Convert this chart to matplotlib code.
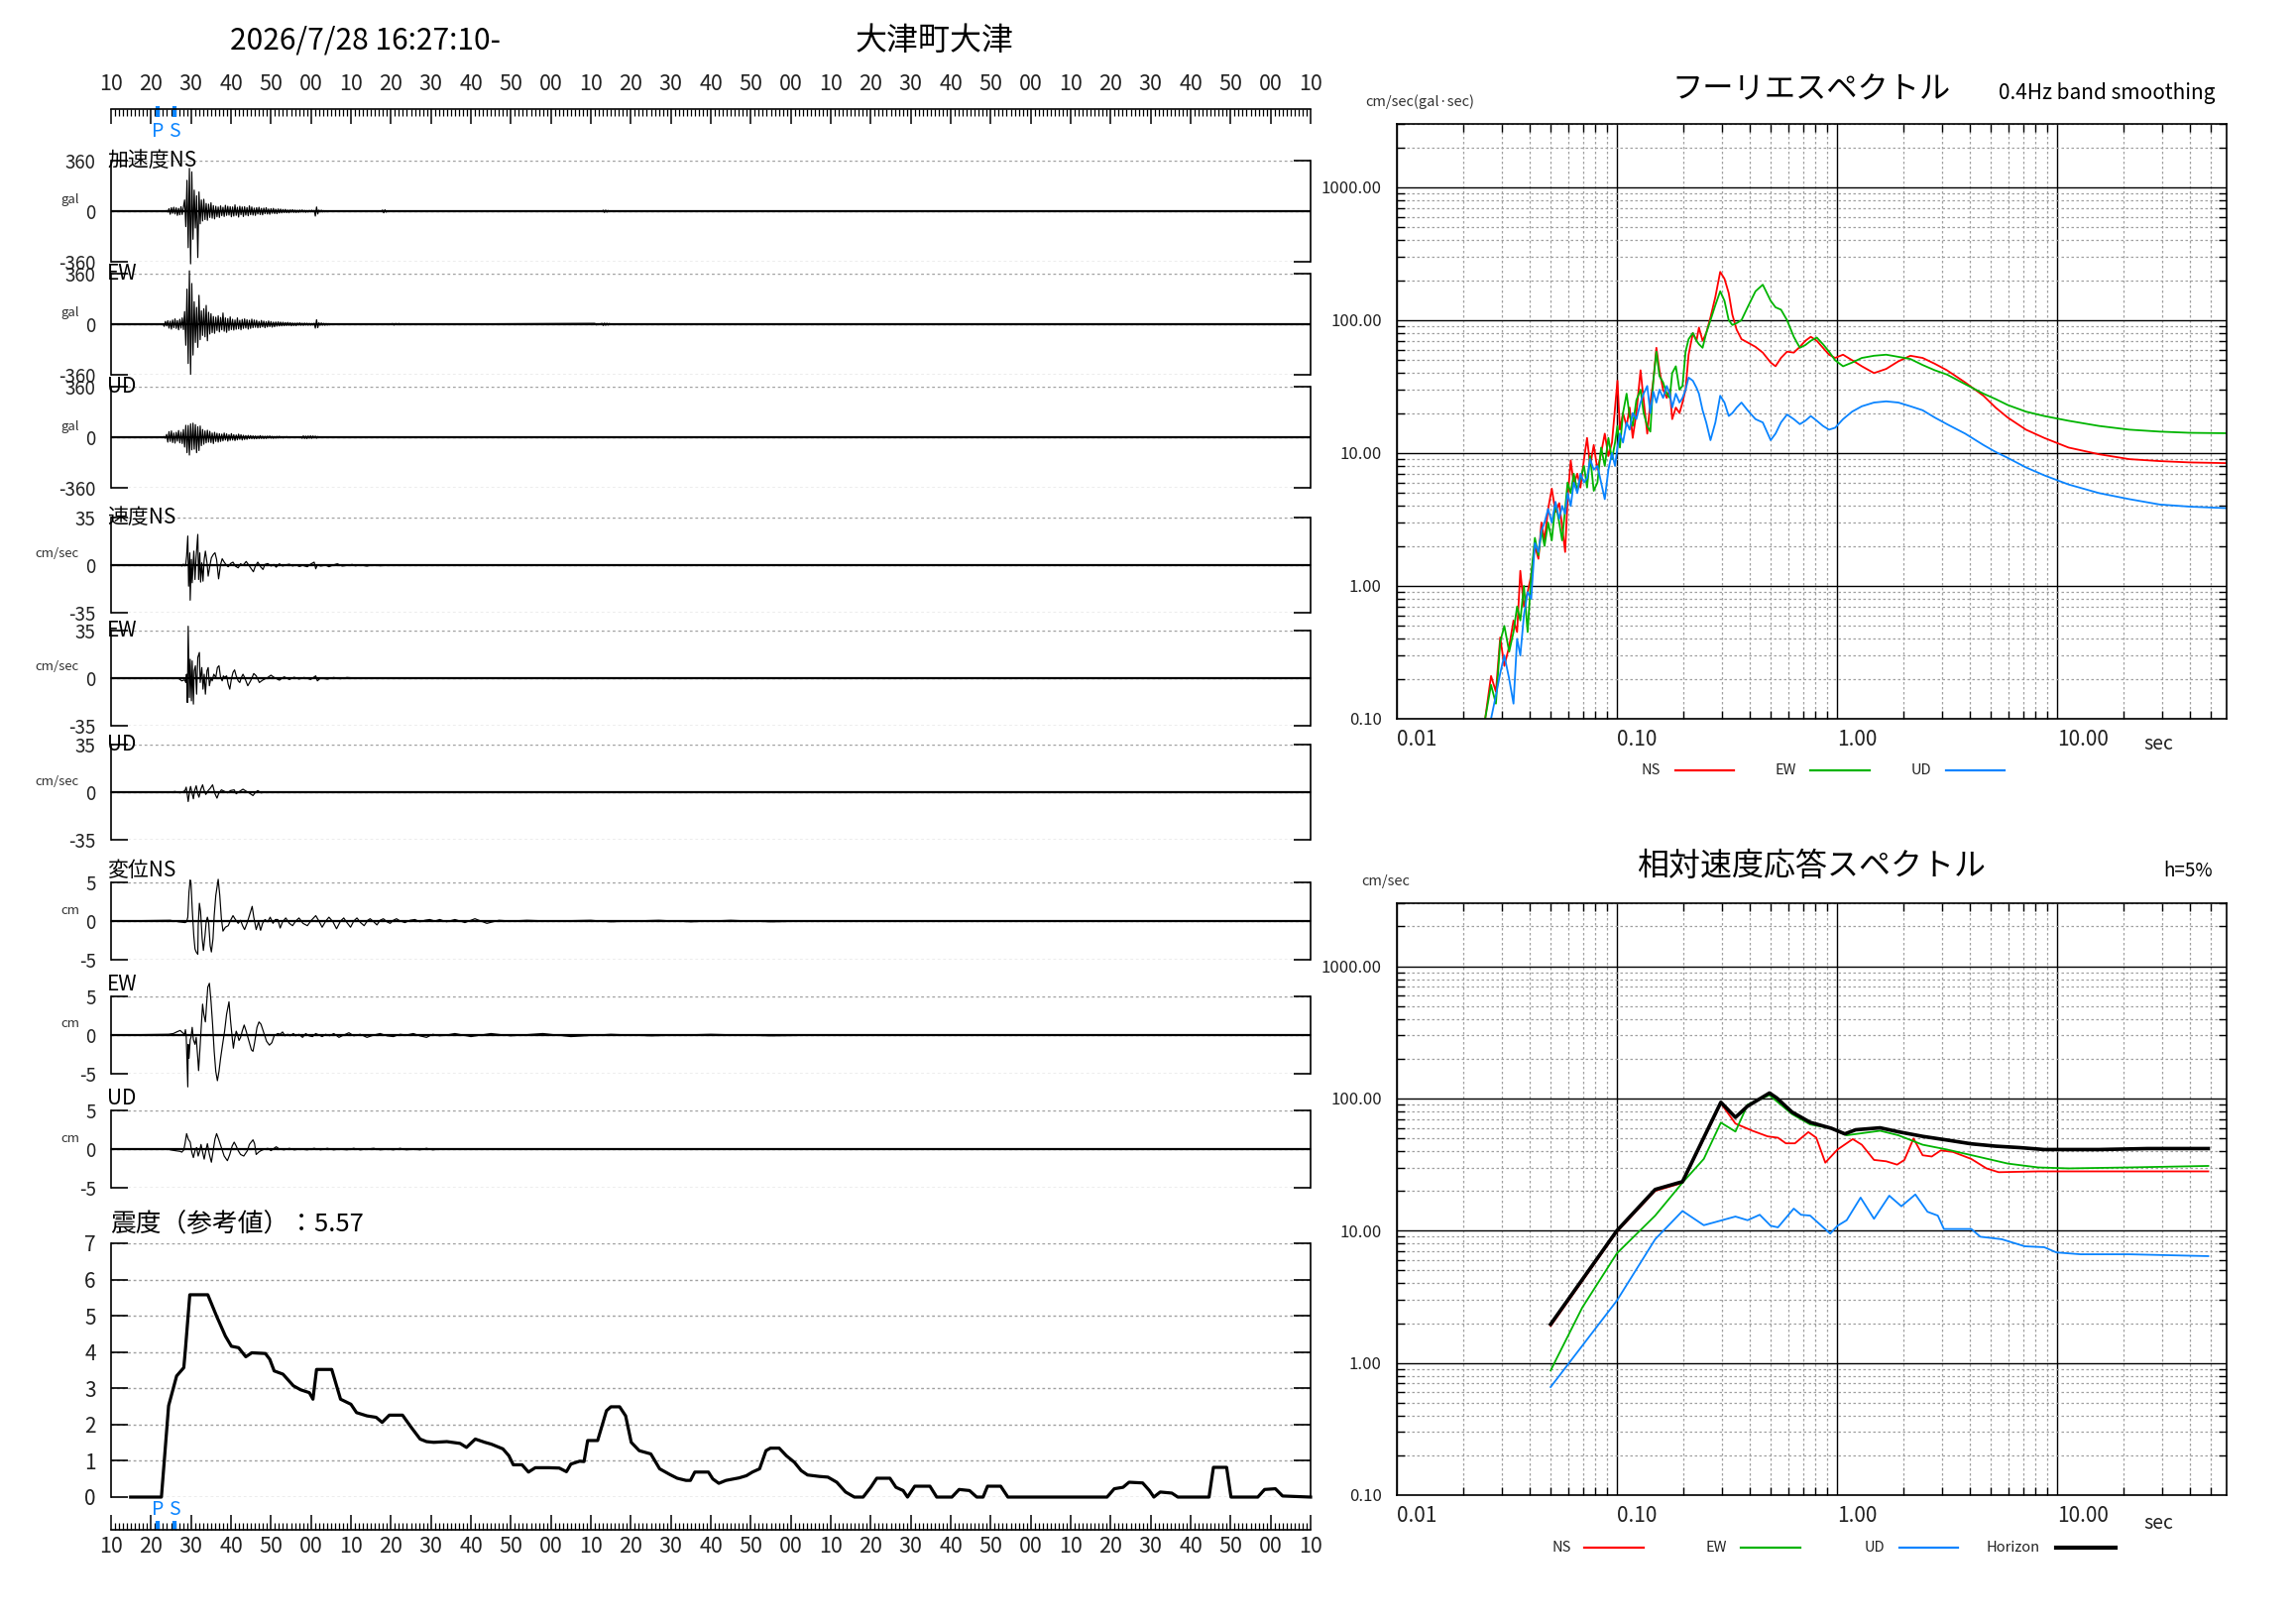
import numpy as np
import matplotlib
matplotlib.use("Agg")
import matplotlib.pyplot as plt
import matplotlib.transforms as mtransforms
from matplotlib.lines import Line2D
from matplotlib.ticker import MultipleLocator, FuncFormatter, LogLocator, NullFormatter

plt.rcParams['font.family'] = ['Noto Sans CJK JP', 'DejaVu Sans']

W, H, DPI = 2316, 1637, 100
LEFT, RIGHT = 112, 1322        # waveform panels (px)
SP_L, SP_R = 1409, 2246        # spectrum panels (px)
RED, GREEN, BLUE = '#ff0000', '#00b400', '#0a84ff'
GRID = '#a0a0a0'
DOT = (0, (2, 2))

# ---------------- data ----------------
# time in seconds after 16:27:10
p_time = 11.7
s_time = 15.9

# acceleration (gal), sampled every acc_dt seconds from acc_t0
acc_t0 = 13.0
acc_dt = 0.3
acc_ns = [0, 3, -4, 5, -6,
          18, -22, 25, -15, 28, -20, 24, -30, 20, -26, 32, -24, 30,
          80, -110, 220, -260, 305, -375, 280, -200, 150, -120, 110, -330,
          137, -90, 80, -70, 85, -60, 55, -65, 50, -45, 60, -50, 40, -55,
          35, -40, 30, -45, 38, -32, 28, -38, 42, -30, 35, -28, 32, -40,
          30, -35, 45, -30, 28, -42, 35, -25, 30, -38, 32, -28, 26, -33, 38, -25, 30,
          -28, 22, -30, 25, -20, 28, -24, 20, -26, 22, -18, 25, -20, 16, -22, 18, -15, 20,
          -17, 14, -18, 16, -13, 15, -12,
          12, -10, 13, -11, 9, -12, 10, -8, 11, -9, 8, -10, 7, -9, 8, -6, 9, -7, 6, -8,
          5, -7, 6, -5, 7, -5, 6,
          -35, 30, -20, 8, -6, 7, -5, 4, -5, 3, -4, 3, -2, 0]
acc_ew = [2, -15, 20, -12, 25,
          -28, 22, -35, 30, -25, 38, -30, 26, -40, 35, -28, 45, -38,
          90, -150, 250, -280, 380, -357, 290, -220, 160, -130, 120, -165,
          206, -110, 95, -80, 110, -90, 134, -118, 85, -70, 75, -60, 55, -65,
          50, -45, 60, -55, 48, -40, 80, -50, 45, -58, 40, -45, 52, -38,
          35, -42, 30, -36, 45, -33, 28, -40, 34, -30, 38, -27, 32, -35, 28, -30, 36,
          -25, 30, -22, 28, -26, 20, -24, 27, -19, 22, -25, 18, -20, 23, -17, 19, -21, 15,
          -18, 16, -14, 17, -13, 15, -12,
          14, -11, 12, -10, 13, -9, 11, -12, 9, -10, 8, -11, 9, -7, 10, -8, 7, -9, 8, -6,
          7, -8, 6, -7, 5, -6, 7,
          -28, 32, -25, 10, -8, 9, -7, 6, -8, 5, -6, 4, -5, 0]
acc_ud = [0, 5, -8, 20, -35,
          40, -30, 45, -38, 30, -42, 35, -28, 48, -40, 36, -45, 55,
          -70, 85, -110, 84, -127, 95, -90, 100, -85, 90, -110, 75,
          -95, 80, -60, 55, -50, 45, -40, 50, -35, 42, -38, 30, -45, 35,
          -30, 28, -35, 25, -30, 22, -26, 30, -20, 24, -28, 18, -22, 26,
          -20, 18, -24, 16, -19, 22, -15, 18, -20, 14, -16, 12, -15, 13, -10, 12, -11,
          10, -12, 9, -11, 8, -10, 12, -9, 8, -10, 7, -9, 8, -6, 9, -7, 6, -8,
          5, -7, 6, -5, 7, -5, 4,
          -5, 4, -3, 5, -4, 3, -4, 2, -3, 3, -2, 3, -2, 2, -3, 2, -8, 10, -9, 8,
          -10, 9, -7, 10, -8, 9, -6,
          8, -7, 5, -4, 3, -2, 2, -1, 1, -1, 1, 0, 0, 0]
# small later bursts in the acceleration records (time, gal)
acc_ns_blip_t = [67.6, 67.9, 68.2, 68.5, 68.8, 69.1, 122.8, 123.1, 123.4, 123.7, 124.0, 124.3, 124.6]
acc_ns_blip = [0, 8, -12, 10, -7, 0, 0, 7, -9, 8, -7, 5, 0]
acc_ew_blip_t = [70.0, 70.4, 70.8, 71.2, 71.6, 72.0, 72.4, 72.8, 121.0, 121.3, 122.8, 123.1, 123.4,
                 123.7, 124.0, 124.3, 124.6, 125.0]
acc_ew_blip = [0, 5, -6, 5, -4, 5, -4, 0, 6, -5, 6, -9, 8, -8, 7, -6, 5, 0]

# velocity (cm/sec)
vel_ns_t = [0, 15.6, 17.3, 17.7, 18.1, 18.5, 18.7, 18.9, 19.2, 19.4,
            19.7, 19.8, 20.1, 20.3, 20.7, 21.0, 21.3, 21.7, 21.9, 22.2,
            22.4, 22.7, 23.0, 23.3, 23.6, 24.0, 24.3, 24.7, 25.1, 25.6,
            26.0, 26.4, 26.9, 27.4, 27.8, 28.3, 28.9, 29.3, 29.9, 30.5,
            31.1, 31.8, 32.4, 33.0, 33.8, 34.6, 35.6, 36.1, 36.7, 37.4,
            38.0, 38.5, 39.2, 40.0, 40.7, 41.3, 42.1, 42.9, 43.7, 44.6,
            45.4, 46.2, 47.1, 47.9, 49.1, 49.9, 50.8, 51.2, 51.6, 52.4,
            53.7, 54.5, 55.7, 56.6, 57.8, 59.0, 60.3, 61.1, 62.4, 64.0,
            65.7, 67.3, 69.0, 70.6, 300]
vel_ns = [0, 0, 0.2, -0.7, 0.7, -0.5, 1.0, 6.6, 21.4, -15.5,
          9.0, -25.8, 4.2, -13.0, 10.3, -10.6, 6.6, 22.6, -10.6, 9.0,
          -12.5, 1.7, -11.8, 4.2, 10.3, 1.7, -8.1, -0.7, 5.4, 7.9,
          9.1, 4.2, -10.1, 0.5, 4.7, 2.2, -0.2, -1.2, 1.2, 2.2,
          -0.7, -2.0, 1.0, -0.2, 2.7, -0.7, -4.9, -0.7, 2.2, -1.2,
          -3.2, 0.5, 1.2, -0.7, 0.5, -1.5, 1.0, -0.7, 0.2, 0.7,
          -0.7, 0.2, -1.0, -0.2, -1.2, 0.7, 2.2, -2.7, 0.2, -0.7,
          0, -1.2, 0.2, 1.0, -0.7, -0.2, 0.5, -0.5, 0, -0.7,
          0.2, -0.5, 0, -0.2, 0]
vel_ew_t = [0, 16.9, 17.7, 18.4, 18.7, 18.9, 19.1, 19.3, 19.6, 19.8,
            20.1, 20.3, 20.6, 20.8, 21.1, 21.4, 21.7, 22.1, 22.3, 22.7,
            23.0, 23.3, 23.6, 24.0, 24.3, 24.6, 25.0, 25.3, 25.7, 26.2,
            26.6, 27.0, 27.4, 27.8, 28.1, 28.4, 28.9, 29.3, 29.7, 30.1,
            30.5, 30.9, 31.3, 31.8, 32.2, 32.6, 33.0, 33.4, 34.2, 34.9,
            35.7, 36.3, 37.1, 37.9, 39.2, 40.0, 40.8, 42.1, 43.3, 44.6,
            45.8, 47.0, 48.3, 49.9, 51.2, 51.6, 52.4, 54.1, 55.7, 57.4,
            59.0, 62.3, 67.3, 300]
vel_ew = [0, -0.2, -2.0, -1.2, -3.2, 2.9, -17.9, 38.2, -14.2, 13.9,
          -16.7, 12.7, -19.1, 5.4, 9.1, -11.8, 15.2, 18.9, -3.2, 7.8,
          -8.1, 2.9, -11.8, 5.4, 7.8, -5.6, 0.5, -2.0, 2.9, 0.5,
          7.8, 9.1, 0.5, -2.0, 1.7, 0.5, 1.7, -4.4, -8.1, -0.7,
          4.2, 6.1, 1.7, -2.0, -3.2, 0.5, 2.9, 0.5, -5.6, -2.0,
          3.4, 1.7, -3.2, -1.5, 0.5, 2.2, 0.5, -1.5, 1.0, -1.0,
          0.7, -0.7, 0.5, -1.0, 1.7, -2.0, 0, -0.7, 0.5, -0.5,
          0.5, -0.2, 0.2, 0]
vel_ud_t = [0, 14.4, 16.0, 17.3, 18.1, 18.5, 18.8, 19.1, 19.3, 19.7,
            19.9, 20.3, 20.6, 20.9, 21.3, 21.7, 22.0, 22.4, 22.9, 23.3,
            23.7, 24.3, 24.9, 25.4, 26.0, 26.5, 26.9, 27.6, 28.3, 29.1,
            29.9, 30.8, 31.3, 32.2, 33.0, 33.8, 34.6, 35.5, 36.1, 36.7,
            37.5, 39.2, 41.7, 45.0, 49.1, 55.7, 300]
vel_ud = [0, -0.2, 0.5, -0.5, 0.5, 1.2, 3.7, -2.5, -6.9, 1.7,
          4.2, -1.2, -4.9, 1.2, 4.7, -1.2, -3.7, 1.7, 5.4, 1.2,
          -1.7, 1.2, 3.2, 5.4, -1.2, -4.4, -1.2, 1.7, 0.7, -0.5,
          1.2, 1.7, -1.2, 0.7, 2.2, 0.7, -0.7, -2.5, -0.2, 1.2,
          -0.5, 0.2, -0.2, 0.2, -0.2, 0, 0]

# displacement (cm)
disp_ns_t = [0, 14.8, 16.9, 18.5, 18.9, 19.2, 19.5, 19.8, 20.0, 20.3,
             20.7, 21.0, 21.3, 21.7, 21.8, 22.1, 22.4, 22.8, 23.1, 23.5,
             23.8, 24.1, 24.4, 24.8, 25.1, 25.5, 25.8, 26.2, 26.8, 27.2,
             27.6, 28.0, 28.6, 29.3, 29.9, 30.5, 31.1, 31.8, 32.4, 32.9,
             33.4, 34.0, 34.6, 35.3, 35.7, 36.3, 36.9, 37.4, 37.9, 38.5,
             39.2, 39.8, 40.5, 41.1, 41.7, 42.3, 42.9, 43.7, 44.6, 45.4,
             46.2, 47.0, 48.0, 49.1, 50.1, 51.2, 52.0, 52.8, 53.7, 54.5,
             55.5, 56.4, 57.4, 58.2, 59.0, 59.9, 60.7, 61.5, 62.4, 63.3,
             64.2, 64.8, 65.7, 66.5, 67.3, 68.1, 69.0, 69.8, 70.6, 71.4,
             72.3, 73.5, 74.8, 76.0, 77.2, 78.5, 79.7, 81.0, 82.2, 83.9,
             86.0, 88.5, 91.0, 94.0, 97.0, 100.0, 104.0, 110.0, 120.0, 125.0,
             130.0, 137.0, 145.0, 155.0, 165.0, 175.0, 300]
disp_ns = [0, 0.1, -0.1, -0.2, -0.1, 0.5, 3.8, 5.3, 4.9, 1.6,
           -1.9, -3.6, -4.0, -4.3, -0.6, 2.3, 1.2, -2.3, -3.8, -1.9,
           -0.1, 0.5, -0.1, -3.2, -4.0, -2.3, 0.7, 3.3, 5.4, 3.3,
           0.3, -1.3, -0.8, -0.6, 0.1, 0.7, 0.2, -0.3, 0.1, -0.6,
           -1.1, -0.3, 0.7, 1.9, 0.5, -1.1, -0.1, -1.2, -0.3, 0.2,
           -0.1, 0.5, -0.3, 0.2, 0.2, -0.9, -0.1, 0.4, -0.3, -0.6,
           0, 0.4, -0.3, -0.6, 0.1, 0.7, 0, -0.8, 0, 0.5,
           -0.1, -1.0, 0, 0.4, -0.2, -0.8, 0, 0.4, -0.2, -0.6,
           0.1, 0.3, -0.1, -0.5, 0.1, 0.3, -0.1, -0.3, 0.1, 0.3,
           0, -0.2, 0.1, 0.2, -0.1, 0.1, 0.2, 0, 0.2, -0.1,
           0.2, -0.2, 0.3, -0.3, 0.1, 0, 0.1, 0, 0.1, -0.1,
           0, 0.1, -0.1, 0.1, -0.1, 0, 0]
disp_ew_t = [0, 14.4, 15.6, 16.4, 17.3, 17.9, 18.4, 18.6, 18.8, 19.2,
             19.3, 19.5, 19.8, 20.0, 20.3, 20.6, 21.0, 21.3, 21.7, 21.9,
             22.2, 22.6, 22.9, 23.2, 23.6, 23.9, 24.2, 24.6, 25.0, 25.4,
             25.8, 26.2, 26.6, 27.0, 27.4, 27.9, 28.4, 28.9, 29.5, 29.9,
             30.3, 30.6, 30.9, 31.3, 31.6, 32.0, 32.4, 32.8, 33.3, 33.8,
             34.5, 35.1, 35.5, 35.9, 36.5, 37.0, 37.5, 38.2, 38.9, 39.6,
             40.2, 40.8, 41.7, 42.3, 42.9, 43.5, 44.2, 44.8, 45.6, 46.2,
             47.0, 47.9, 48.7, 49.5, 50.4, 51.2, 52.0, 52.8, 53.7, 54.7,
             55.7, 57.0, 58.2, 59.5, 60.7, 62.3, 64.0, 65.7, 67.3, 69.0,
             70.6, 72.3, 73.9, 75.6, 77.2, 78.9, 80.5, 82.2, 83.9, 86.0,
             90.0, 95.0, 100.0, 108.0, 115.0, 125.0, 135.0, 150.0, 165.0, 180.0, 300]
disp_ew = [0, 0.1, 0.2, 0.4, 0.6, 0.3, 0.1, 0.7, -0.1, -6.7,
           -1.2, -3.0, -0.6, -0.3, 1.0, -0.6, -1.2, -0.3, -3.0, -4.6,
           -2.1, 1.4, 4.0, 2.7, 1.7, 4.0, 6.2, 6.7, 4.4, 1.4,
           -2.1, -4.7, -5.9, -4.7, -3.0, -1.2, 0.5, 2.7, 4.3, 1.8,
           -0.3, -1.7, -0.6, 0.5, 0.1, -0.7, -0.3, 0.5, 1.3, 0.5,
           -0.8, -1.9, -2.1, -1.0, 1.0, 1.7, 1.4, 0.3, -0.8, -1.3,
           -1.0, -0.1, 0.2, 0.1, 0.4, -0.1, 0.1, -0.1, 0.2, -0.1,
           0.1, -0.3, 0.2, -0.1, -0.2, 0.2, 0, -0.2, 0.1, -0.1,
           0.2, -0.3, 0, 0.3, -0.1, 0.1, -0.3, 0, 0.2, -0.1,
           -0.2, 0.1, 0, 0.2, -0.1, -0.3, 0.1, -0.1, 0, 0.2,
           -0.2, 0.2, -0.1, 0.2, -0.2, 0.1, -0.1, 0.1, -0.1, 0, 0]
disp_ud_t = [0, 14.4, 14.8, 16.0, 17.3, 17.7, 18.2, 18.5, 18.9, 19.3,
             19.8, 20.2, 20.6, 21.0, 21.4, 21.8, 22.2, 22.5, 22.9, 23.3,
             23.7, 24.1, 24.6, 25.1, 25.6, 26.0, 26.4, 26.9, 27.6, 28.3,
             29.1, 29.7, 30.3, 30.8, 31.3, 31.8, 32.4, 33.2, 34.1, 34.6,
             35.5, 35.9, 36.3, 36.9, 37.5, 38.4, 39.2, 40.0, 41.3, 42.1,
             43.3, 44.6, 45.8, 47.5, 49.1, 50.8, 52.4, 54.1, 55.7, 57.4,
             59.0, 60.7, 62.3, 64.0, 65.7, 67.3, 69.0, 70.6, 72.3, 73.9,
             75.6, 77.2, 78.9, 80.5, 82.2, 83.9, 300]
disp_ud = [0, 0, -0.1, -0.2, -0.3, -0.4, -0.1, 0.7, 2.0, 1.3,
           0.9, -0.4, -1.1, -0.2, 0.2, -0.9, -0.2, 0.6, -0.4, -1.3,
           -0.2, 0.7, -0.7, -1.7, 0, 1.3, 2.0, 1.3, 0.2, -0.9,
           -1.5, -0.7, 0.4, 0.9, 0.4, -0.2, -0.7, -0.9, -0.2, 0.6,
           1.2, 0.7, -0.7, -0.4, -0.2, 0, 0.1, -0.2, 0.3, 0,
           -0.1, 0.1, -0.1, 0, -0.1, 0.1, -0.1, 0.1, -0.1, 0,
           -0.1, 0.1, -0.1, 0, 0.1, -0.1, 0, -0.1, 0.1, -0.1,
           0, -0.1, 0.1, -0.1, 0, 0, 0]

# seismic intensity (reference value)
int_t = [4.9, 12.6, 14.4, 16.4, 18.2, 18.6, 19.7, 24.2, 26.4, 28.6,
         30.1, 31.9, 33.7, 35.2, 38.6, 39.7, 40.8, 43.0, 45.6, 47.4,
         49.6, 50.5, 51.4, 55.2, 57.4, 60.0, 61.4, 64.0, 66.3, 67.8,
         69.6, 72.9, 75.1, 77.3, 78.9, 80.7, 84.0, 87.3, 88.9, 91.1,
         93.5, 95.1, 98.0, 99.5, 100.6, 102.8, 104.4, 106.1, 109.5, 112.1,
         113.9, 115.0, 117.2, 118.3, 119.2, 121.7, 123.9, 125.0, 127.2, 128.7,
         130.1, 132.1, 135.0, 137.2, 139.8, 141.6, 143.8, 144.9, 146.0, 149.4,
         150.5, 152.0, 153.8, 157.1, 158.9, 160.4, 162.2, 163.8, 164.9, 167.1,
         168.9, 170.9, 172.6, 174.2, 177.1, 179.3, 181.5, 183.7, 185.9, 188.1,
         190.0, 191.5, 194.8, 196.3, 198.1, 199.2, 201.0, 204.8, 206.5, 210.3,
         212.1, 214.7, 216.5, 218.1, 219.2, 222.5, 224.3, 249.1, 250.9, 253.1,
         254.6, 258.0, 259.7, 260.8, 262.4, 265.3, 266.8, 274.6, 275.7, 279.0,
         280.1, 286.8, 288.5, 291.2, 293.0, 300.0]
int_v = [0, 0, 2.52, 3.34, 3.57, 4.07, 5.58, 5.58, 4.99, 4.44,
         4.16, 4.12, 3.87, 3.98, 3.96, 3.80, 3.48, 3.39, 3.07, 2.96,
         2.88, 2.70, 3.52, 3.52, 2.70, 2.56, 2.33, 2.24, 2.20, 2.06,
         2.26, 2.26, 1.92, 1.60, 1.53, 1.51, 1.53, 1.48, 1.37, 1.60,
         1.51, 1.46, 1.33, 1.14, 0.89, 0.89, 0.69, 0.81, 0.81, 0.80,
         0.70, 0.91, 0.99, 0.98, 1.56, 1.56, 2.38, 2.49, 2.49, 2.24,
         1.51, 1.28, 1.19, 0.78, 0.62, 0.52, 0.46, 0.46, 0.69, 0.69,
         0.50, 0.38, 0.46, 0.53, 0.59, 0.69, 0.78, 1.28, 1.35, 1.35,
         1.14, 0.96, 0.73, 0.61, 0.57, 0.55, 0.41, 0.14, 0, 0,
         0.27, 0.52, 0.52, 0.27, 0.18, 0, 0.30, 0.30, 0, 0,
         0.21, 0.18, 0, 0, 0.30, 0.30, 0, 0, 0.23, 0.27,
         0.41, 0.39, 0.18, 0, 0.14, 0.11, 0, 0, 0.82, 0.82,
         0, 0, 0.21, 0.23, 0.03, 0]
intensity = 5.57

# Fourier spectra (period sec -> cm/sec)
four_period = [0.0252, 0.0268, 0.0282, 0.0295, 0.0308, 0.0324, 0.0339, 0.0352, 0.0364, 0.0378,
               0.0393, 0.0408, 0.0424, 0.0440, 0.0454, 0.0469, 0.0487, 0.0506, 0.0526, 0.0547,
               0.0564, 0.0582, 0.0597, 0.0617, 0.0637, 0.0661, 0.0683, 0.0709, 0.0732, 0.0756,
               0.0785, 0.0816, 0.0848, 0.0881, 0.0915, 0.0950, 0.0981, 0.1006, 0.1032, 0.1066,
               0.1107, 0.1143, 0.1180, 0.1226, 0.1281, 0.1323, 0.1374, 0.1419, 0.1464, 0.1512,
               0.1561, 0.1622, 0.1685, 0.1739, 0.1784, 0.1853, 0.1925, 0.1987, 0.2052, 0.2118,
               0.2215, 0.2301, 0.2360, 0.2452, 0.2547, 0.2663, 0.2803, 0.2948, 0.3083, 0.3223,
               0.3348, 0.3500, 0.3683, 0.3926, 0.4264, 0.4603, 0.4999, 0.5260, 0.5569, 0.5934,
               0.6366, 0.6785, 0.7185, 0.7608, 0.8103, 0.8639, 0.9207, 0.9811, 1.066, 1.172,
               1.298, 1.474, 1.674, 1.901, 2.159, 2.452, 2.785, 3.162, 3.828, 4.632,
               5.260, 5.973, 7.228, 8.750, 11.29, 15.51, 21.32, 29.31, 40.27, 58.97]
four_ns = [0.10, 0.21, 0.16, 0.41, 0.25, 0.35, 0.55, 0.45, 1.3, 0.7,
           0.9, 1.2, 2.0, 1.6, 3.0, 2.2, 3.8, 5.4, 3.6, 4.2,
           2.8, 1.8, 4.5, 8.8, 5.8, 7.0, 5.5, 9.0, 13.0, 8.0,
           11.5, 7.5, 10.0, 14.0, 9.5, 12.0, 22, 35, 15, 20,
           16, 22, 13, 20, 42, 25, 14, 24, 35, 62,
           42, 30, 26, 30, 18, 22, 20, 24, 30, 55,
           80, 70, 88, 70, 80, 105, 150, 231, 205, 160,
           110, 85, 72, 68, 63, 57, 48, 45, 52, 58,
           57, 63, 70, 75, 70, 62, 55, 52, 55, 50,
           45, 40, 43, 49, 54, 52, 47, 42, 34, 27,
           22, 18.5, 15, 13, 11, 9.8, 9.0, 8.7, 8.5, 8.4]
four_ew = [0.10, 0.18, 0.13, 0.38, 0.50, 0.32, 0.45, 0.70, 0.55, 1.0,
           0.45, 1.2, 2.3, 1.7, 2.6, 2.0, 3.0, 2.2, 4.2, 3.0,
           2.2, 3.8, 6.0, 5.0, 7.0, 5.2, 6.5, 8.0, 5.5, 9.5,
           5.2, 6.0, 11.0, 8.0, 13.0, 9.0, 12.0, 16.0, 11.0, 20.0,
           28, 19, 16, 25, 30, 20, 16, 14.5, 35, 58,
           38, 34, 28, 26, 40, 45, 30, 32, 58, 72,
           80, 70, 66, 62, 80, 100, 130, 165, 140, 100,
           92, 95, 100, 125, 165, 185, 140, 125, 120, 100,
           75, 62, 65, 70, 74, 66, 58, 50, 45, 48,
           52, 54, 55, 53, 51, 46, 42, 39, 33, 28,
           25.5, 23, 20.5, 19, 17.5, 16, 15, 14.5, 14.2, 14.1]
four_ud = [0.08, 0.10, 0.15, 0.22, 0.30, 0.20, 0.13, 0.40, 0.30, 0.60,
           0.90, 0.80, 2.1, 1.8, 2.6, 3.0, 3.8, 3.0, 4.3, 3.2,
           4.0, 3.5, 5.0, 4.0, 6.0, 5.0, 7.0, 6.0, 6.5, 9.0,
           7.5, 8.0, 6.0, 4.5, 7.5, 10.0, 8.0, 11.0, 14.0, 12.0,
           17, 15, 20, 18, 24, 28, 32, 20, 29, 24,
           30, 26, 32, 28, 22, 28, 24, 26, 30, 37,
           35, 31, 28, 21, 17, 12.5, 17, 27, 24, 19,
           20, 22, 24, 21, 18, 17, 12.5, 14, 17, 19.5,
           18, 16.5, 17.5, 19, 17.5, 16, 15, 15.5, 18, 20.5,
           22.5, 24, 24.5, 24, 22.5, 21, 18.5, 16.5, 14, 11.5,
           10.2, 9.2, 7.8, 6.8, 5.8, 5.0, 4.5, 4.1, 3.95, 3.85]

# relative velocity response spectra, h=5%
rs_hor_t = [0.0500, 0.1000, 0.1493, 0.1987, 0.2969, 0.3457, 0.3926, 0.4937, 0.5326, 0.6245,
            0.7559, 0.9438, 1.086, 1.218, 1.571, 1.901, 2.452, 3.162, 4.078, 5.260,
            6.785, 8.75, 15.51, 25.8, 48.7]
rs_hor = [1.96, 10.0, 20.5, 23.5, 93.6, 72, 87.5, 110, 101, 79,
          66, 59.5, 54, 58, 60, 56, 51.7, 48.5, 45.4, 43.6,
          42.5, 41.1, 41.1, 41.8, 41.8]
rs_ew_t = [0.0500, 0.0696, 0.1000, 0.1493, 0.1987, 0.2483, 0.2969, 0.3457, 0.3926, 0.4937,
           0.6245, 0.7559, 0.9438, 1.107, 1.571, 1.901, 2.452, 3.162, 4.346, 5.976,
           8.205, 11.29, 21.3, 48.7]
rs_ew = [0.877, 2.62, 6.74, 13.0, 23.1, 34.9, 65.7, 56.2, 89.7, 106,
         76.3, 63.6, 59.5, 52.7, 57, 52.7, 44.7, 41.1, 36.4, 32.2,
         30.1, 29.6, 30.1, 30.9]
rs_ns_t = [0.0500, 0.1000, 0.1493, 0.1987, 0.2969, 0.3457, 0.4130, 0.4842, 0.5394, 0.5861,
           0.6445, 0.7416, 0.8055, 0.8856, 1.006, 1.180, 1.297, 1.474, 1.674, 1.877,
           2.026, 2.229, 2.452, 2.698, 2.967, 3.370, 4.078, 4.782, 5.430, 8.205, 48.7]
rs_ns = [1.9, 9.8, 20.0, 23.0, 92.0, 64.6, 57.0, 51.7, 50.5, 45.8,
         45.8, 55.7, 50.5, 32.7, 41.1, 49.3, 44.7, 34.3, 33.5, 31.6,
         34.3, 49.8, 37.2, 36.4, 40.5, 39.4, 34.9, 29.6, 27.7, 28.1, 28.1]
rs_ud_t = [0.0500, 0.1000, 0.1493, 0.1987, 0.2483, 0.3005, 0.3457, 0.3926, 0.4458, 0.4998,
           0.5394, 0.6366, 0.6868, 0.7559, 0.9324, 1.006, 1.107, 1.281, 1.474, 1.729,
           1.963, 2.272, 2.580, 2.874, 3.063, 4.078, 4.486, 5.606, 7.139, 8.75,
           9.93, 12.81, 21.3, 48.7]
rs_ud = [0.657, 2.96, 8.62, 14.1, 11.0, 12.0, 12.8, 12.0, 13.2, 10.9,
         10.6, 14.7, 13.2, 13.0, 9.5, 10.9, 12.0, 17.8, 12.3, 18.4,
         15.3, 18.8, 13.9, 13.0, 10.3, 10.3, 9.0, 8.62, 7.62, 7.5,
         6.85, 6.63, 6.63, 6.42]

x_major = [0.01, 0.1, 1, 10]
x_major_labels = ['0.01', '0.10', '1.00', '10.00']
y_major = [0.1, 1, 10, 100, 1000]
y_major_labels = ['0.10', '1.00', '10.00', '100.00', '1000.00']

# ---------------- figure ----------------
fig = plt.figure(figsize=(W / DPI, H / DPI), dpi=DPI)


def box(x0, y0, x1, y1):
    return fig.add_axes([x0 / W, 1 - y1 / H, (x1 - x0) / W, (y1 - y0) / H])


def ftext(x, y, s, **kw):
    kw.setdefault('ha', 'center')
    kw.setdefault('va', 'center')
    return fig.text(x / W, 1 - y / H, s, **kw)


def time_label(t, pos):
    return '%02d' % ((10 + int(round(t))) % 60)


def ruler(y0, y1, top):
    ax = box(LEFT, y0, RIGHT, y1)
    ax.set_xlim(0, 300)
    ax.set_yticks([])
    for s in ax.spines:
        ax.spines[s].set_visible(False)
    side = 'top' if top else 'bottom'
    ax.spines[side].set_visible(True)
    ax.spines[side].set_linewidth(1.2)
    ax.xaxis.set_ticks_position(side)
    ax.xaxis.set_major_locator(MultipleLocator(10))
    ax.xaxis.set_minor_locator(MultipleLocator(1))
    ax.xaxis.set_major_formatter(FuncFormatter(time_label))
    ax.tick_params(axis='x', which='major', direction='in', length=11, width=1.1,
                   labelsize=15.5, pad=10 if top else 4, labelcolor='#222')
    ax.tick_params(axis='x', which='minor', direction='in', length=5, width=0.9)
    ax.patch.set_alpha(0)
    return ax


def mark_ps(ax, y_lo, y_hi, y_txt):
    tr = mtransforms.blended_transform_factory(ax.transData, ax.transAxes)
    for tt, name in ((p_time, 'P'), (s_time, 'S')):
        ax.plot([tt, tt], [y_lo, y_hi], transform=tr, color=BLUE, lw=3,
                solid_capstyle='butt', clip_on=False)
        ax.text(tt, y_txt, name, transform=tr, color=BLUE, fontsize=14,
                ha='center', va='center')


def wave_panel(ytop, ybot, lim, t, v, title, unit, title_dy=0, extra=None):
    ax = box(LEFT, ytop, RIGHT, ybot)
    ax.set_xlim(0, 300)
    ax.set_ylim(-lim, lim)
    ax.set_axisbelow(True)
    ax.grid(axis='y', color=GRID, lw=1.0, ls=DOT)
    ax.axhline(0, color='k', lw=1.6, zorder=2)
    ax.plot(t, v, color='k', lw=0.85, clip_on=False, zorder=3)
    if extra is not None:
        ax.plot(extra[0], extra[1], color='k', lw=0.85, zorder=3)
    ax.set_xticks([])
    ax.set_yticks([lim, 0, -lim], ['%g' % lim, '0', '%g' % -lim])
    ax.tick_params(axis='y', direction='in', length=12, width=1.2, left=True,
                   right=True, pad=11, labelsize=13.5, labelcolor='#222')
    for s in ('top', 'bottom'):
        ax.spines[s].set_visible(False)
    for s in ('left', 'right'):
        ax.spines[s].set_linewidth(1.2)
    ax.patch.set_alpha(0)
    yc = (ytop + ybot) / 2
    ftext(LEFT - 4, ytop - title_dy, title, ha='left', fontsize=15)
    ftext(80, yc - 11, unit, ha='right', fontsize=9.5, color='#333')
    return ax


# title line
ftext(369, 41, '2026/7/28 16:27:10-', fontsize=21.5)
ftext(943, 41, '大津町大津', fontsize=23)

# top time ruler
top_ax = ruler(110, 125, True)
mark_ps(top_ax, 1.2, 0.47, -0.47)

wave_panel(162, 264, 360, acc_t0 + acc_dt * np.arange(len(acc_ns)), acc_ns, '加速度NS', 'gal',
           extra=(acc_ns_blip_t, acc_ns_blip))
wave_panel(276, 378, 360, acc_t0 + acc_dt * np.arange(len(acc_ew)), acc_ew, 'EW', 'gal',
           extra=(acc_ew_blip_t, acc_ew_blip))
wave_panel(390, 492, 360, acc_t0 + acc_dt * np.arange(len(acc_ud)), acc_ud, 'UD', 'gal')
wave_panel(522, 618, 35, vel_ns_t, vel_ns, '速度NS', 'cm/sec')
wave_panel(636, 732, 35, vel_ew_t, vel_ew, 'EW', 'cm/sec')
wave_panel(751, 847, 35, vel_ud_t, vel_ud, 'UD', 'cm/sec')
wave_panel(890, 968, 5, disp_ns_t, disp_ns, '変位NS', 'cm', title_dy=12)
wave_panel(1005, 1083, 5, disp_ew_t, disp_ew, 'EW', 'cm', title_dy=12)
wave_panel(1120, 1198, 5, disp_ud_t, disp_ud, 'UD', 'cm', title_dy=12)

# intensity panel
ax_i = box(LEFT, 1254, RIGHT, 1510)
ax_i.set_xlim(0, 300)
ax_i.set_ylim(0, 7)
ax_i.set_axisbelow(True)
ax_i.grid(axis='y', color=GRID, lw=1.0, ls=DOT)
ax_i.plot(int_t, int_v, color='k', lw=2.3, clip_on=False, zorder=3)
ax_i.set_xticks([])
ax_i.set_yticks(range(8))
ax_i.tick_params(axis='y', direction='in', length=12, width=1.2, left=True,
                 right=True, pad=11, labelsize=15, labelcolor='#222')
for s in ('top', 'bottom'):
    ax_i.spines[s].set_visible(False)
for s in ('left', 'right'):
    ax_i.spines[s].set_linewidth(1.2)
ax_i.patch.set_alpha(0)
ftext(111, 1235, '震度（参考値）：%.2f' % intensity, ha='left', fontsize=18.5)

bot_ax = ruler(1528, 1543, False)
mark_ps(bot_ax, 0.0, 0.6, 1.4)


# spectra
def spec_axes(ytop, ybot):
    ax = box(SP_L, ytop, SP_R, ybot)
    ax.set_xscale('log')
    ax.set_yscale('log')
    ax.set_xticks(x_major, x_major_labels)
    ax.set_yticks(y_major, y_major_labels)
    ax.xaxis.set_minor_locator(LogLocator(base=10, subs=np.arange(2, 10), numticks=100))
    ax.yaxis.set_minor_locator(LogLocator(base=10, subs=np.arange(2, 10), numticks=100))
    ax.xaxis.set_minor_formatter(NullFormatter())
    ax.yaxis.set_minor_formatter(NullFormatter())
    ax.set_xlim(0.01, 59)
    ax.set_ylim(0.1, 3000)
    ax.set_axisbelow(True)
    ax.grid(which='major', color='k', lw=1.0, ls='-')
    ax.grid(which='minor', color=GRID, lw=0.9, ls=DOT)
    ax.tick_params(which='major', length=0)
    ax.tick_params(axis='x', which='major', pad=7, labelsize=15, labelcolor='#222')
    ax.tick_params(axis='y', which='major', pad=11, labelsize=12, labelcolor='#222')
    ax.tick_params(which='minor', direction='in', length=6, width=1.0,
                   top=True, right=True, bottom=True, left=True)
    for lab in ax.get_xticklabels():
        lab.set_ha('left')
    for s in ax.spines.values():
        s.set_linewidth(1.2)
    return ax


def legend_item(x_txt, x0, x1, y, name, color, lw=1.6):
    ftext(x_txt, y, name, fontsize=10.5, color='#222')
    fig.add_artist(Line2D([x0 / W, x1 / W], [1 - y / H, 1 - y / H], color=color, lw=lw))


ax_f = spec_axes(125, 725)
ax_f.plot(four_period, four_ns, color=RED, lw=1.3)
ax_f.plot(four_period, four_ew, color=GREEN, lw=1.3)
ax_f.plot(four_period, four_ud, color=BLUE, lw=1.3)
ftext(1827, 90, 'フーリエスペクトル', fontsize=22.5)
ftext(2125, 94, '0.4Hz band smoothing', fontsize=15)
ftext(1432, 103, 'cm/sec(gal·sec)', fontsize=10.5, color='#333')
ftext(2177, 751, 'sec', fontsize=14, color='#222')
legend_item(1665, 1690, 1749, 777, 'NS', RED)
legend_item(1801, 1826, 1886, 777, 'EW', GREEN)
legend_item(1938, 1963, 2022, 777, 'UD', BLUE)

ax_r = spec_axes(911, 1508)
ax_r.plot(rs_ns_t, rs_ns, color=RED, lw=1.3)
ax_r.plot(rs_ew_t, rs_ew, color=GREEN, lw=1.3)
ax_r.plot(rs_ud_t, rs_ud, color=BLUE, lw=1.3)
ax_r.plot(rs_hor_t, rs_hor, color='k', lw=2.6)
ftext(1827, 874, '相対速度応答スペクトル', fontsize=23)
ftext(2207, 878, 'h=5%', fontsize=13.5)
ftext(1398, 889, 'cm/sec', fontsize=10.5, color='#333')
ftext(2177, 1537, 'sec', fontsize=14, color='#222')
legend_item(1575, 1598, 1658, 1561, 'NS', RED)
legend_item(1731, 1756, 1816, 1561, 'EW', GREEN)
legend_item(1891, 1916, 1975, 1561, 'UD', BLUE)
legend_item(2031, 2074, 2134, 1561, 'Horizon', 'k', lw=3)

fig.savefig('out.png', dpi=DPI, facecolor='white')
